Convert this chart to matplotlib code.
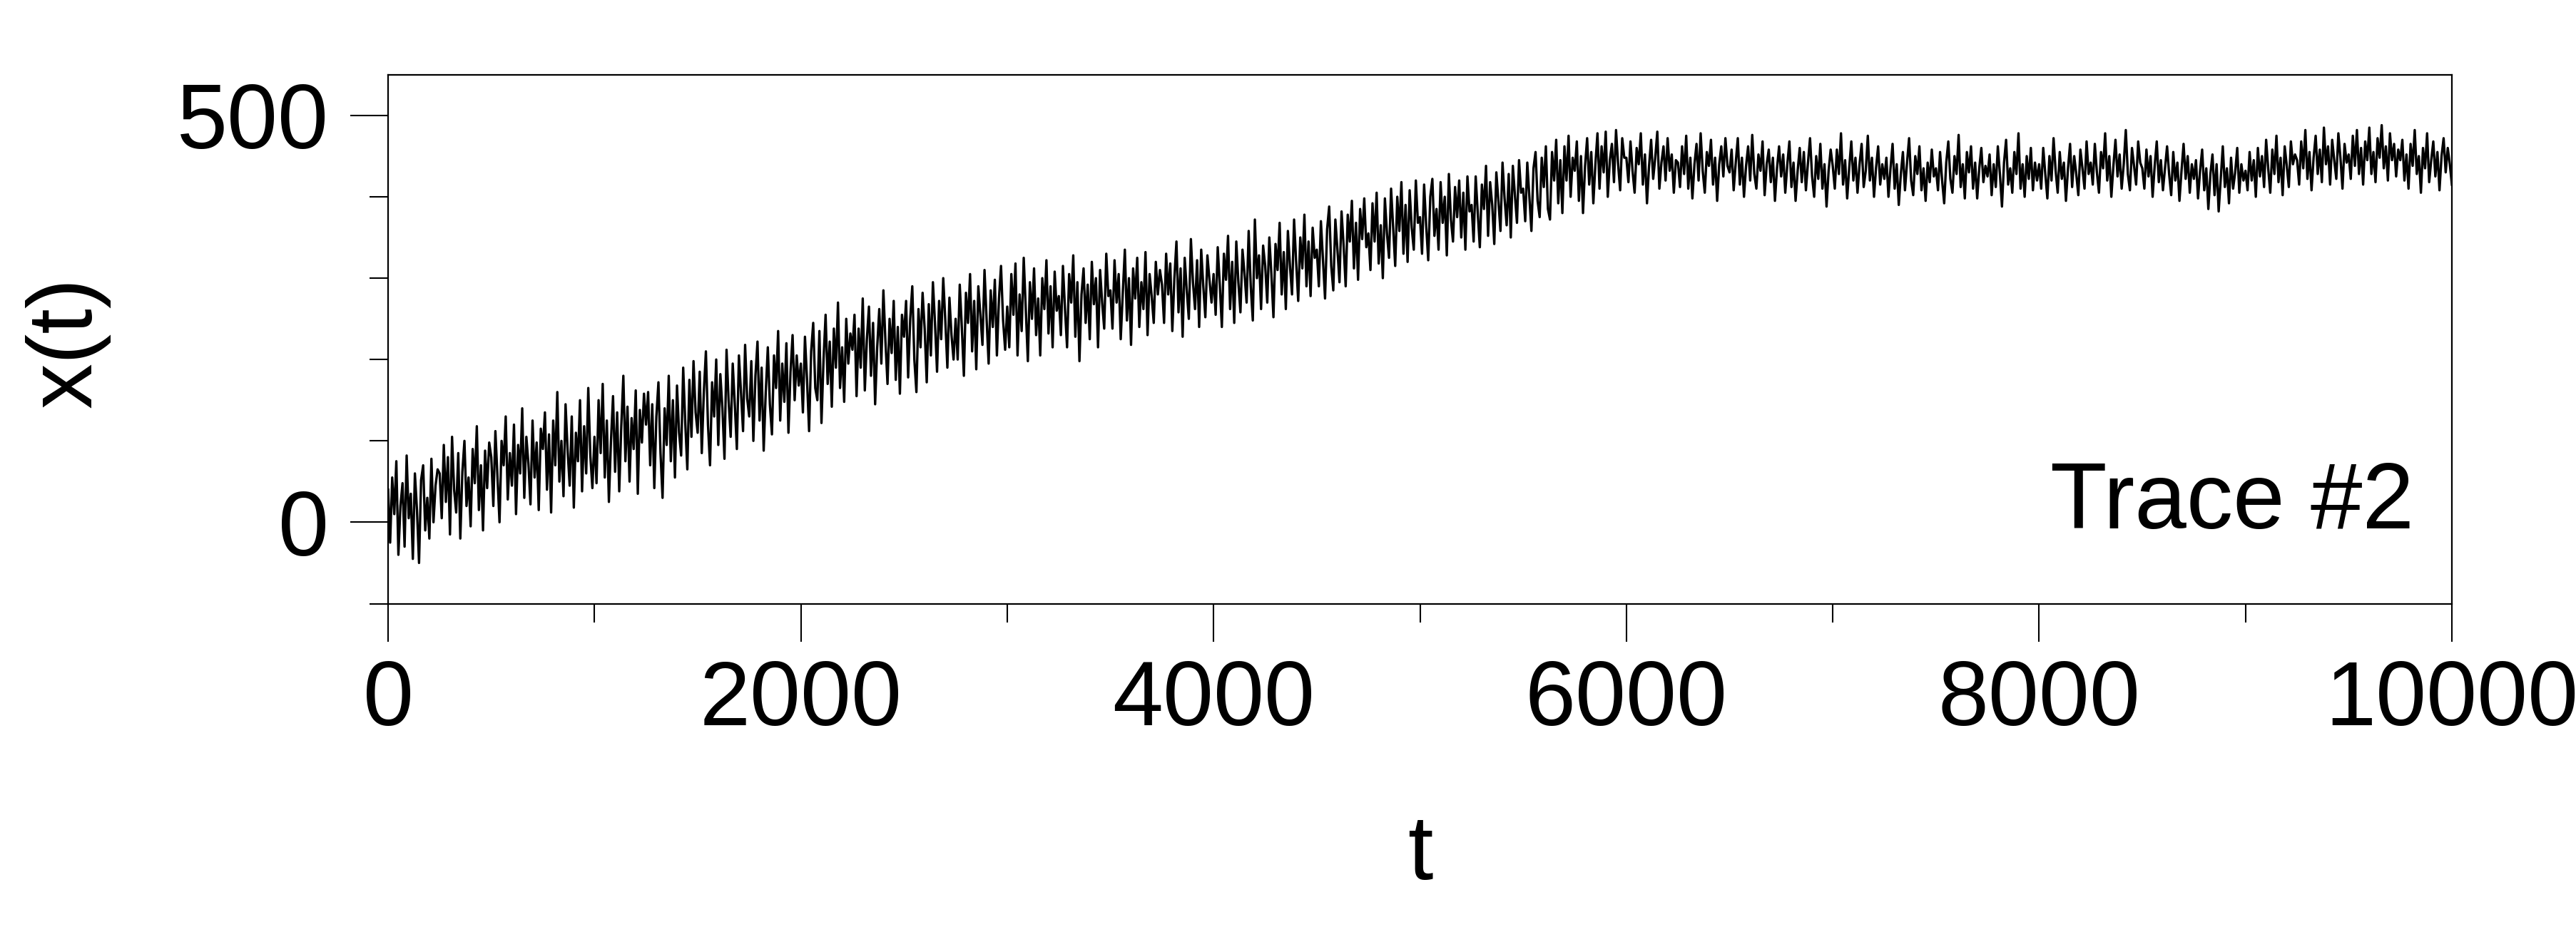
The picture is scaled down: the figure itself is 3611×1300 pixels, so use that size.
import numpy as np
import matplotlib
matplotlib.use("Agg")
import matplotlib.pyplot as plt
from matplotlib.ticker import FixedLocator

plt.rcParams['font.family'] = ['Liberation Sans', 'DejaVu Sans']

# sample times (every 10 time units)
t_values = np.arange(0, 10001, 10)

# x(t), 25 samples per row (250 time units per row)
x_values = [
    40, -25, 55, 10, 75, -40, 20, 48, -30, 82, 5, 35, -45, 60, 15, -50, 52, 70, -10, 30, -20, 78, 0, 45, 65,
    60, 5, 95, 25, 80, -15, 105, 40, 12, 85, -20, 62, 100, 20, 55, -5, 90, 48, 118, 15, 70, -10, 88, 42, 98,
    80, 20, 112, 55, 0, 100, 70, 130, 28, 85, 45, 120, 10, 95, 60, 140, 30, 105, 72, 22, 125, 55, 98, 15, 115,
    90, 135, 40, 108, 12, 125, 70, 160, 50, 100, 32, 145, 88, 45, 130, 18, 110, 75, 150, 38, 118, 60, 165, 82, 42,
    105, 48, 150, 85, 170, 55, 125, 25, 100, 155, 62, 135, 38, 118, 180, 75, 142, 50, 128, 90, 162, 35, 138, 98, 158,
    120, 160, 70, 145, 42, 130, 172, 85, 30, 140, 95, 180, 75, 150, 55, 168, 110, 82, 190, 122, 65, 175, 105, 198, 135,
    110, 185, 85, 160, 210, 120, 70, 172, 130, 200, 95, 182, 140, 78, 212, 150, 105, 195, 145, 90, 205, 160, 112, 218, 152,
    130, 198, 100, 180, 222, 125, 190, 88, 160, 215, 145, 108, 205, 165, 235, 125, 195, 148, 220, 110, 185, 230, 150, 205, 168,
    195, 135, 228, 175, 112, 210, 245, 165, 150, 235, 122, 200, 255, 170, 222, 142, 238, 190, 270, 165, 215, 148, 250, 195, 232,
    212, 255, 155, 238, 190, 275, 162, 225, 265, 180, 245, 145, 215, 262, 195, 285, 222, 170, 250, 208, 272, 175, 240, 158, 255,
    228, 272, 178, 250, 290, 200, 160, 262, 215, 282, 238, 172, 268, 205, 295, 245, 185, 272, 225, 300, 248, 190, 276, 230, 200,
    250, 200, 292, 240, 180, 282, 245, 305, 210, 272, 188, 290, 255, 218, 310, 250, 195, 285, 240, 298, 205, 275, 315, 248, 212,
    265, 215, 305, 255, 318, 205, 280, 235, 325, 262, 198, 295, 250, 312, 230, 275, 205, 300, 262, 322, 232, 290, 215, 308, 260,
    278, 230, 315, 262, 215, 305, 270, 328, 228, 295, 198, 280, 312, 245, 292, 225, 320, 268, 300, 215, 310, 270, 238, 330, 278,
    285, 238, 322, 270, 305, 225, 282, 335, 248, 300, 218, 312, 275, 325, 240, 295, 262, 332, 230, 305, 278, 245, 320, 280, 310,
    292, 245, 330, 280, 318, 235, 300, 345, 258, 312, 228, 325, 285, 250, 348, 295, 262, 322, 240, 335, 290, 252, 328, 298, 270,
    305, 255, 338, 292, 240, 330, 298, 352, 262, 320, 245, 345, 295, 258, 335, 305, 270, 358, 290, 248, 372, 300, 328, 262, 340,
    315, 270, 350, 305, 252, 342, 310, 368, 280, 332, 262, 358, 315, 280, 372, 320, 272, 350, 312, 378, 290, 345, 278, 362, 325,
    335, 290, 370, 322, 275, 360, 388, 315, 285, 372, 335, 295, 382, 340, 290, 378, 345, 395, 312, 368, 298, 385, 348, 398, 338,
    355, 310, 392, 345, 405, 318, 365, 300, 398, 355, 325, 410, 362, 315, 400, 358, 418, 330, 390, 320, 408, 362, 335, 420, 368,
    375, 330, 415, 365, 322, 400, 422, 352, 385, 335, 418, 368, 400, 328, 428, 372, 345, 412, 375, 420, 350, 405, 335, 425, 382,
    390, 345, 425, 380, 338, 415, 385, 438, 352, 418, 390, 342, 430, 395, 358, 442, 398, 365, 428, 350, 438, 402, 368, 445, 405,
    410, 370, 442, 400, 358, 435, 455, 395, 375, 448, 412, 462, 385, 372, 455, 420, 470, 392, 445, 380, 462, 420, 475, 400, 448,
    432, 468, 395, 450, 380, 438, 472, 415, 455, 392, 440, 478, 410, 462, 430, 480, 400, 445, 465, 418, 482, 440, 408, 472, 448,
    448, 418, 468, 432, 405, 460, 440, 478, 415, 452, 392, 438, 470, 422, 448, 480, 410, 442, 462, 420, 472, 432, 452, 405, 445,
    442, 412, 462, 428, 475, 410, 448, 398, 440, 465, 420, 478, 432, 405, 455, 438, 470, 415, 448, 395, 440, 462, 425, 472, 438,
    430, 458, 408, 442, 472, 415, 448, 400, 438, 462, 420, 476, 428, 410, 452, 432, 468, 402, 440, 458, 418, 448, 395, 435, 462,
    425, 452, 405, 440, 468, 412, 442, 395, 432, 460, 418, 455, 408, 442, 472, 425, 400, 450, 422, 465, 410, 440, 388, 432, 458,
    438, 410, 458, 428, 478, 415, 445, 398, 436, 468, 420, 448, 405, 440, 465, 412, 432, 475, 420, 448, 400, 436, 462, 415, 440,
    422, 448, 400, 435, 465, 410, 440, 390, 428, 455, 408, 442, 472, 420, 402, 450, 428, 462, 408, 435, 395, 442, 418, 458, 425,
    435, 408, 455, 420, 392, 442, 468, 422, 405, 450, 428, 476, 412, 440, 398, 455, 430, 462, 410, 442, 398, 435, 460, 418, 438,
    425, 452, 402, 440, 412, 462, 428, 388, 442, 470, 415, 435, 405, 455, 428, 478, 410, 440, 400, 450, 422, 460, 408, 442, 420,
    440, 410, 460, 428, 398, 450, 420, 472, 432, 405, 455, 422, 442, 395, 435, 465, 412, 450, 428, 402, 458, 435, 410, 468, 428,
    442, 415, 465, 430, 405, 455, 435, 478, 420, 450, 400, 438, 470, 425, 452, 410, 440, 482, 428, 408, 460, 438, 415, 468, 442,
    435, 410, 458, 425, 450, 400, 438, 468, 418, 445, 408, 435, 462, 428, 402, 455, 420, 442, 395, 432, 465, 422, 450, 405, 440,
    422, 445, 398, 432, 458, 408, 435, 385, 428, 452, 402, 440, 382, 422, 462, 412, 435, 392, 448, 410, 430, 460, 405, 440, 420,
    432, 408, 455, 420, 445, 400, 460, 425, 450, 412, 470, 435, 405, 458, 428, 475, 418, 448, 402, 462, 438, 412, 468, 440, 452,
    445, 415, 468, 435, 482, 422, 455, 408, 448, 475, 428, 458, 418, 485, 440, 462, 415, 470, 445, 422, 478, 448, 410, 465, 442,
    452, 422, 475, 438, 482, 428, 460, 415, 468, 445, 485, 428, 455, 418, 472, 448, 488, 435, 462, 420, 478, 445, 465, 425, 458,
    445, 470, 420, 452, 410, 465, 438, 482, 428, 450, 405, 460, 435, 478, 418, 445, 468, 425, 455, 408, 450, 472, 430, 460, 440,
    415,
]

x_major = [0, 2000, 4000, 6000, 8000, 10000]
x_minor = [1000, 3000, 5000, 7000, 9000]
y_major = [0, 500]
y_minor = [-100, 100, 200, 300, 400]
x_label = "t"
y_label = "x(t)"
annotation = "Trace #2"

W, H = 3611, 1300
fig = plt.figure(figsize=(W / 100, H / 100), dpi=100)
ax = fig.add_axes([544 / W, 1 - 846.5 / H, (3437 - 544) / W, (846.5 - 104.8) / H])

ax.plot(t_values, x_values, color='black', linewidth=2.4)

ax.set_xlim(0, 10000)
ax.set_ylim(-100, 550)

ax.xaxis.set_major_locator(FixedLocator(x_major))
ax.xaxis.set_minor_locator(FixedLocator(x_minor))
ax.yaxis.set_major_locator(FixedLocator(y_major))
ax.yaxis.set_minor_locator(FixedLocator(y_minor))
ax.set_xticklabels([str(v) for v in x_major])
ax.set_yticklabels([str(v) for v in y_major])

fs = 92
ax.tick_params(axis='both', which='major', direction='out', length=38, width=1.5,
               labelsize=fs, color='black')
ax.tick_params(axis='both', which='minor', direction='out', length=19, width=1.5,
               color='black')
ax.tick_params(axis='x', which='major', pad=18)
ax.tick_params(axis='y', which='major', pad=22)

for sp in ax.spines.values():
    sp.set_linewidth(1.6)
    sp.set_color('black')

fig.text((544 + 3437) / 2 / W, 1 - 1233 / H, x_label, ha='center', va='baseline', fontsize=fs)
fig.text(95 / W, 1 - 480 / H, y_label, ha='center', va='center', rotation=90, fontsize=fs)

ax.text(9817, -7.4, annotation, ha='right', va='baseline', fontsize=fs + 2)

fig.savefig("out.png", dpi=100, facecolor='white')
